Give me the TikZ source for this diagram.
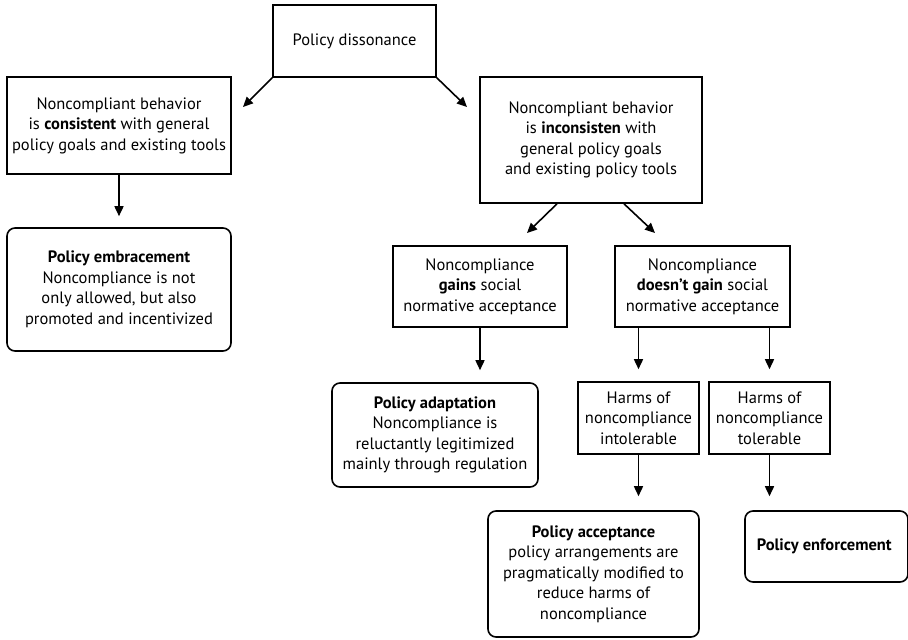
\documentclass[tikz,border=0pt]{standalone}
\usepackage{fontspec}
\setmainfont{PT Sans}
\usepackage{tikz}
\usetikzlibrary{arrows.meta,positioning}
\tikzstyle{arrow} = [line width=1.6pt,-{Triangle[length=10pt,width=9pt]}]
\tikzstyle{stepbox} = [rectangle, draw, line width=1.6pt, align=center, inner sep=0pt, font=\fontsize{16.5}{20.5}\selectfont]
\tikzstyle{outcome} = [stepbox, rounded corners=8pt]

\begin{document}
\begin{tikzpicture}[x=1pt,y=-1pt]
\useasboundingbox (0,0) rectangle (908,640);
% Dissonance and the two cases
\node[stepbox, minimum width=163pt, minimum height=72pt] (dis) at (354.5,41) {Policy dissonance};
\node[stepbox, minimum width=224pt, minimum height=97pt] (cons) at (119,125.5) {
Noncompliant behavior\\is \textbf{consistent} with general\\policy goals and existing tools
};
\node[stepbox, minimum width=222pt, minimum height=126pt] (incons) at (591,140) {
Noncompliant behavior\\is \textbf{inconsisten} with\\general policy goals\\and existing policy tools
};

% Social acceptance
\node[stepbox, minimum width=174pt, minimum height=81pt] (gains) at (480,286.5) {
Noncompliance\\\textbf{gains} social\\normative acceptance
};
\node[stepbox, minimum width=175pt, minimum height=81pt] (nogain) at (702.5,286.5) {
Noncompliance\\\textbf{doesn't gain} social\\normative acceptance
};

% Harms
\node[stepbox, minimum width=121pt, minimum height=72pt] (intol) at (638.5,418) {
Harms of\\noncompliance\\intolerable
};
\node[stepbox, minimum width=121pt, minimum height=72pt] (tol) at (769.5,418) {
Harms of\\noncompliance\\tolerable
};

% Outcomes
\node[outcome, minimum width=224pt, minimum height=123pt] (emb) at (119,289.5) {
\textbf{Policy embracement}\\Noncompliance is not\\only allowed, but also\\promoted and incentivized
};
\node[outcome, minimum width=206pt, minimum height=104pt] (adapt) at (435,435) {
\textbf{Policy adaptation}\\Noncompliance is\\reluctantly legitimized\\mainly through regulation
};
\node[outcome, minimum width=211pt, minimum height=126pt] (accept) at (593.5,574) {
\textbf{Policy acceptance}\\policy arrangements are\\pragmatically modified to\\reduce harms of\\noncompliance
};
\node[outcome, minimum width=163pt, minimum height=71pt] (enforce) at (826.5,546.5) {
\textbf{Policy enforcement}
};

% Arrows
\coordinate (tipcons) at (243,107);
\coordinate (tipincons) at (467,107);
\coordinate (tipgains) at (527,233);
\coordinate (tipnogain) at (655,233);
\draw[arrow] (dis.south west) -- (tipcons);
\draw[arrow] (dis.south east) -- (tipincons);
\draw[arrow] ([xshift=-34pt]incons.south) -- (tipgains);
\draw[arrow] ([xshift=33pt]incons.south) -- (tipnogain);
\draw[arrow, shorten >=11pt] (cons) -- (emb);
\draw[arrow, shorten >=12pt] (gains.south) -- (gains.south |- adapt.north);
\draw[arrow, shorten >=12pt] (intol.north |- nogain.south) -- (intol.north);
\draw[arrow, shorten >=12pt] (tol.north |- nogain.south) -- (tol.north);
\draw[arrow, shorten >=14pt] (intol.south) -- (intol.south |- accept.north);
\draw[arrow, shorten >=14pt] (tol.south) -- (tol.south |- enforce.north);
\end{tikzpicture}
\end{document}
